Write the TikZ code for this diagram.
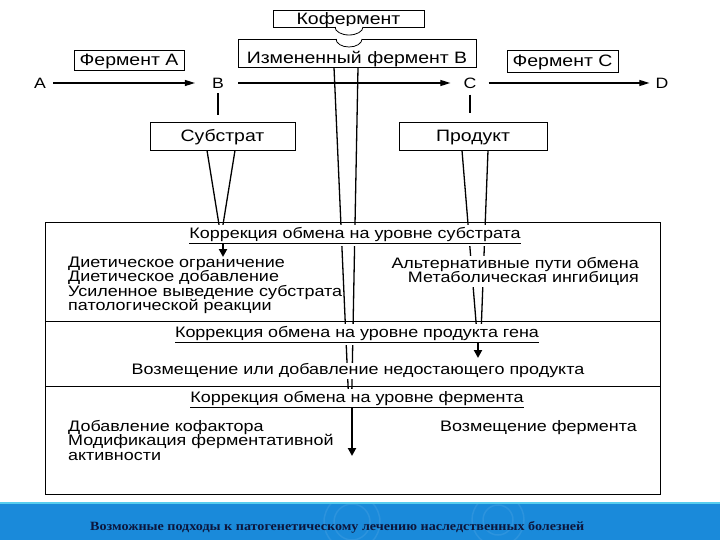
\documentclass[tikz,border=0pt]{standalone}
\usepackage{fontspec}
\setmainfont{Liberation Sans}
\newfontfamily\wsans[FakeStretch=1.18]{Liberation Sans}
\newfontfamily\wserif[FakeStretch=1.12]{Liberation Serif}
\usetikzlibrary{arrows.meta}
\definecolor{bandblue}{RGB}{26,138,218}
\definecolor{capnavy}{RGB}{12,22,60}
\tikzset{
 boxlbl/.style={draw=black, line width=0.8pt, fill=white, font=\wsans\fontsize{16.5}{18}\selectfont, inner sep=0pt, text height=11.8pt, text depth=0pt},
 boxtxt/.style={font=\wsans\fontsize{16.5}{18}\selectfont, inner sep=0pt, text height=11.8pt, text depth=0pt},
 letter/.style={font=\wsans\fontsize{15}{16}\selectfont, inner sep=1pt},
 ttl/.style={font=\wsans\fontsize{15.2}{16}\selectfont, fill=white, inner xsep=2pt, inner ysep=2pt},
 txt/.style={font=\wsans\fontsize{15.2}{14.5}\selectfont, inner sep=1pt, fill=white},
 flow/.style={line width=1.1pt, -{Triangle[length=10pt,width=6pt]}},
 link/.style={line width=1.6pt},
 conv/.style={line width=1.3pt},
 fat/.style={line width=2.6pt, -{Triangle[length=8pt,width=8pt]}},
 frame/.style={line width=0.8pt},
}
\begin{document}
\begin{tikzpicture}[x=1pt,y=-1pt]
\useasboundingbox (0,0) rectangle (720,540);
\fill[white] (0,0) rectangle (720,540);

% top boxes
\node[boxlbl, minimum width=151, minimum height=17] (kof) at (348.5,18.5) {Кофермент};
\node[boxlbl, minimum width=238, minimum height=28] (enzB) at (357,53) {};
\node[boxtxt] (enzBt) at (357,57.5) {Измененный фермент В};
\node[boxlbl, minimum width=110, minimum height=20] (enzA) at (129,60) {Фермент A};
\node[boxlbl, minimum width=111, minimum height=22] (enzC) at (562.5,61) {Фермент C};
\node[boxlbl, minimum width=145, minimum height=28] (sub) at (222.5,136) {Субстрат};
\node[boxlbl, minimum width=148, minimum height=28] (prod) at (473,136) {Продукт};

% coenzyme tab and notch
\draw[white, line width=1.6pt] (335.5,27) -- (362.5,27);
\draw[frame] (335,27) arc[start angle=180, end angle=0, x radius=14, y radius=8];
\draw[white, line width=1.6pt] (336.5,39) -- (361.5,39);
\draw[frame] (336,39) arc[start angle=180, end angle=0, x radius=13, y radius=8];

% metabolites
\node[letter] (A) at (40,83) {A};
\node[letter] (B) at (218,83) {B};
\node[letter] (C) at (470,83) {C};
\node[letter] (D) at (662,83) {D};
\draw[flow, shorten <=6pt, shorten >=16pt] (A.east) -- (B.west);
\draw[flow, shorten <=13pt, shorten >=12pt] (B.east) -- (C.west);
\draw[flow, shorten <=11pt, shorten >=5pt] (C.east) -- (D.west);
\draw[link, shorten <=4pt, shorten >=7pt] (B.south) -- (B.south |- sub.north);
\draw[link, shorten <=5pt, shorten >=9pt] (C.south) -- (C.south |- prod.north);

% converging connectors
\coordinate (subtip) at (221,237);
\draw[conv] ([xshift=-15.5pt]sub.south) -- (subtip);
\draw[conv] ([xshift=12.5pt]sub.south) -- (subtip);
\coordinate (prodL) at (477,334);
\coordinate (prodR) at (481,334);
\draw[conv] ([xshift=-11pt]prod.south) -- (prodL);
\draw[conv] ([xshift=15pt]prod.south) -- (prodR);
\coordinate (enzL) at (348.8,403);
\coordinate (enzR) at (351.6,403);
\draw[conv] ([xshift=-23pt]enzB.south) -- (enzL);
\draw[conv] ([xshift=1pt]enzB.south) -- (enzR);

% titles and texts (white fill hides the connectors)
\node[ttl] (t1) at (355,235.5) {\underline{Коррекция обмена на уровне субстрата}};
\node[ttl] (t2) at (357,334.5) {\underline{Коррекция обмена на уровне продукта гена}};
\node[ttl] (t3) at (357,399.5) {\underline{Коррекция обмена на уровне фермента}};

\node[txt, anchor=west, align=left, fill=none] (l1) at (67,285.5) {Диетическое ограничение\\Диетическое добавление\\Усиленное выведение субстрата\\патологической реакции};
\node[txt, anchor=east, align=right] (r1) at (640,271.5) {Альтернативные пути обмена\\Метаболическая ингибиция};
\node[txt] (m2) at (358,371) {Возмещение или добавление недостающего продукта};
\node[txt, anchor=west, align=left, fill=none] (l3) at (67,440) {Добавление кофактора\\Модификация ферментативной\\активности};
\node[txt, anchor=east, fill=none] (r3) at (638,427.5) {Возмещение фермента};

% panel frame (over the title fills)
\draw[frame] (45,222) rectangle (660,494);
\draw[frame] (45,321) -- (660,321);
\draw[frame] (45,386) -- (660,386);

% arrows below titles
\coordinate (sa) at (223,243);
\draw[fat] (sa) -- ++(0,14);
\coordinate (pa) at (478,342);
\draw[fat] (pa) -- ++(0,16);
\coordinate (ea) at (352,408);
\draw[fat] (ea) -- (352,456);

% bottom band
\fill[bandblue] (0,502) rectangle (720,540);
\fill[bandblue!60!cyan!70!white] (0,502) rectangle (720,504);
\begin{scope}
\clip (0,504) rectangle (720,540);
\draw[bandblue!92!white, line width=1.5pt] (352,522) circle (28);
\draw[bandblue!92!white, line width=1.5pt] (352,522) circle (18);
\draw[bandblue!92!white, line width=1.5pt] (498,520) circle (26);
\draw[bandblue!92!white, line width=1.5pt] (498,520) circle (15);
\end{scope}
\node[anchor=west, inner sep=0pt, text=capnavy, font=\wserif\bfseries\fontsize{12.6}{13}\selectfont] (cap) at (90,527.5) {Возможные подходы к патогенетическому лечению наследственных болезней};
\end{tikzpicture}
\end{document}
